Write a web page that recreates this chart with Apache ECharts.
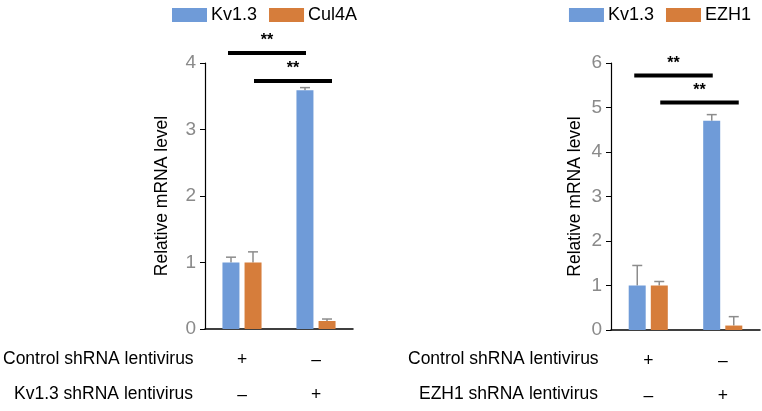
<!DOCTYPE html>
<html><head><meta charset="utf-8">
<script src="https://cdn.jsdelivr.net/npm/echarts@6/dist/echarts.min.js"></script>
<style>html,body{margin:0;padding:0;background:#fff}#c{width:762px;height:411px}</style>
</head><body><div id="c"></div>
<script>
// ---- data ----
const categories = ['g1', 'g2'];
const controlRow = ['+', '–'];
const kdRowLeft = ['–', '+'];
const kdRowRight = ['–', '+'];
const leftKv = [1.0, 3.59];
const leftKvErr = [0.08, 0.04];
const leftCul4A = [1.0, 0.12];
const leftCul4AErr = [0.16, 0.03];
const rightKv = [1.0, 4.7];
const rightKvErr = [0.45, 0.14];
const rightEZH1 = [1.0, 0.1];
const rightEZH1Err = [0.09, 0.2];
// significance: [fromCategory, toCategory, yValue]
const leftSig = [[0, 1, 4.15], [0, 1, 3.73]];
const rightSig = [[0, 1, 5.72], [0, 1, 5.11]];
const leftYTicks = {min: 0, max: 4, interval: 1};
const rightYTicks = {min: 0, max: 6, interval: 1};
const yName = 'Relative mRNA level';
const rowTitles = ['Control shRNA lentivirus', 'Kv1.3 shRNA lentivirus', 'EZH1 shRNA lentivirus'];

const BLUE = '#6f9bd8', ORANGE = '#d67d3b';
const FONT = 'Liberation Sans, Arial, sans-serif';
const FS = 17.5;
const chart = echarts.init(document.getElementById('c'));

function errSeries(name, vals, errs, gi, offset, color) {
  return {
    type: 'custom', xAxisIndex: gi, yAxisIndex: gi, silent: true, z: 1,
    data: vals.map((v, i) => [i, v, v + errs[i]]),
    renderItem: function (params, api) {
      const p = api.coord([api.value(0), api.value(1)]);
      const t = api.coord([api.value(0), api.value(2)]);
      const x = p[0] + offset;
      return {type: 'group', children: [
        {type: 'line', shape: {x1: x, y1: p[1], x2: x, y2: t[1]}, style: {stroke: '#8c8c8c', lineWidth: 1.5}},
        {type: 'line', shape: {x1: x - 5, y1: t[1], x2: x + 5, y2: t[1]}, style: {stroke: '#8c8c8c', lineWidth: 1.5}}
      ]};
    }
  };
}
function sigSeries(sig, gi) {
  const offs = [[-14, -10], [12, 16]];
  return {
    type: 'custom', xAxisIndex: gi, yAxisIndex: gi, silent: true, z: 5,
    data: sig.map((s, k) => [s[0], s[1], s[2], k]),
    renderItem: function (params, api) {
      const k = api.value(3);
      const a = api.coord([api.value(0), api.value(2)]);
      const b = api.coord([api.value(1), api.value(2)]);
      const x1 = a[0] + offs[k][0], x2 = b[0] + offs[k][1];
      return {type: 'group', children: [
        {type: 'line', shape: {x1: x1, y1: a[1], x2: x2, y2: a[1]}, style: {stroke: '#000', lineWidth: 4}},
        {type: 'text', style: {text: '**', x: (x1 + x2) / 2, y: a[1] - 4, textAlign: 'center', textVerticalAlign: 'bottom', font: 'bold 16px ' + FONT, fill: '#000'}}
      ]};
    }
  };
}
function barSeries(name, vals, gi, color) {
  return {name: name, type: 'bar', xAxisIndex: gi, yAxisIndex: gi, data: vals, barWidth: 17, barGap: '30%',
    itemStyle: {color: color}, z: 2, silent: true};
}
function xAx(gi, kdRow) {
  return {type: 'category', gridIndex: gi, data: categories,
    axisLine: {lineStyle: {color: '#000', width: 1.5}}, axisTick: {show: false},
    axisLabel: {margin: 14, lineHeight: 35, fontSize: FS, color: '#000', fontFamily: FONT,
      formatter: function (v, i) { return controlRow[i] + '\n' + kdRow[i]; }}};
}
function yAx(gi, t, gap) {
  return {type: 'value', gridIndex: gi, min: t.min, max: t.max, interval: t.interval,
    name: yName, nameLocation: 'middle', nameGap: gap, nameRotate: 90,
    nameTextStyle: {fontSize: FS, color: '#000', fontFamily: FONT},
    axisLine: {show: true, lineStyle: {color: '#000', width: 1.2}},
    axisTick: {show: true, length: 5, lineStyle: {color: '#000'}},
    splitLine: {show: false},
    axisLabel: {fontSize: 19, color: '#8a8a8a', margin: 9, fontFamily: FONT}};
}
const legendCommon = {top: 1, itemWidth: 35, itemHeight: 14, itemGap: 12, icon: 'rect', orient: 'horizontal',
  textStyle: {fontSize: 18, color: '#000', fontFamily: FONT, padding: [0, 0, 0, -1]}};

chart.setOption({
  animation: false,
  textStyle: {fontFamily: FONT},
  legend: [
    Object.assign({left: 167, data: [{name: 'Kv1.3'}, {name: 'Cul4A'}]}, legendCommon),
    Object.assign({right: 6, data: [{name: 'Kv1.3'}, {name: 'EZH1'}]}, legendCommon)
  ],
  grid: [
    {left: 205, width: 148, top: 63, bottom: 82, outerBoundsMode: 'none', containLabel: false},
    {left: 611, width: 149, top: 63, bottom: 81, outerBoundsMode: 'none', containLabel: false}
  ],
  xAxis: [xAx(0, kdRowLeft), xAx(1, kdRowRight)],
  yAxis: [yAx(0, leftYTicks, 34), yAx(1, rightYTicks, 27)],
  series: [
    barSeries('Kv1.3', leftKv, 0, BLUE),
    barSeries('Cul4A', leftCul4A, 0, ORANGE),
    errSeries('Kv1.3', leftKv, leftKvErr, 0, -11, BLUE),
    errSeries('Cul4A', leftCul4A, leftCul4AErr, 0, 11, ORANGE),
    sigSeries(leftSig, 0),
    barSeries('Kv1.3', rightKv, 1, BLUE),
    barSeries('EZH1', rightEZH1, 1, ORANGE),
    errSeries('Kv1.3', rightKv, rightKvErr, 1, -11, BLUE),
    errSeries('EZH1', rightEZH1, rightEZH1Err, 1, 11, ORANGE),
    sigSeries(rightSig, 1)
  ],
  graphic: [
    {type: 'text', left: 3, top: 350, style: {text: rowTitles[0], font: FS + 'px ' + FONT, fill: '#000'}},
    {type: 'text', left: 14, top: 385, style: {text: rowTitles[1], font: FS + 'px ' + FONT, fill: '#000'}},
    {type: 'text', left: 408, top: 350, style: {text: rowTitles[0], font: FS + 'px ' + FONT, fill: '#000'}},
    {type: 'text', left: 419, top: 385, style: {text: rowTitles[2], font: FS + 'px ' + FONT, fill: '#000'}}
  ]
});
</script></body></html>
